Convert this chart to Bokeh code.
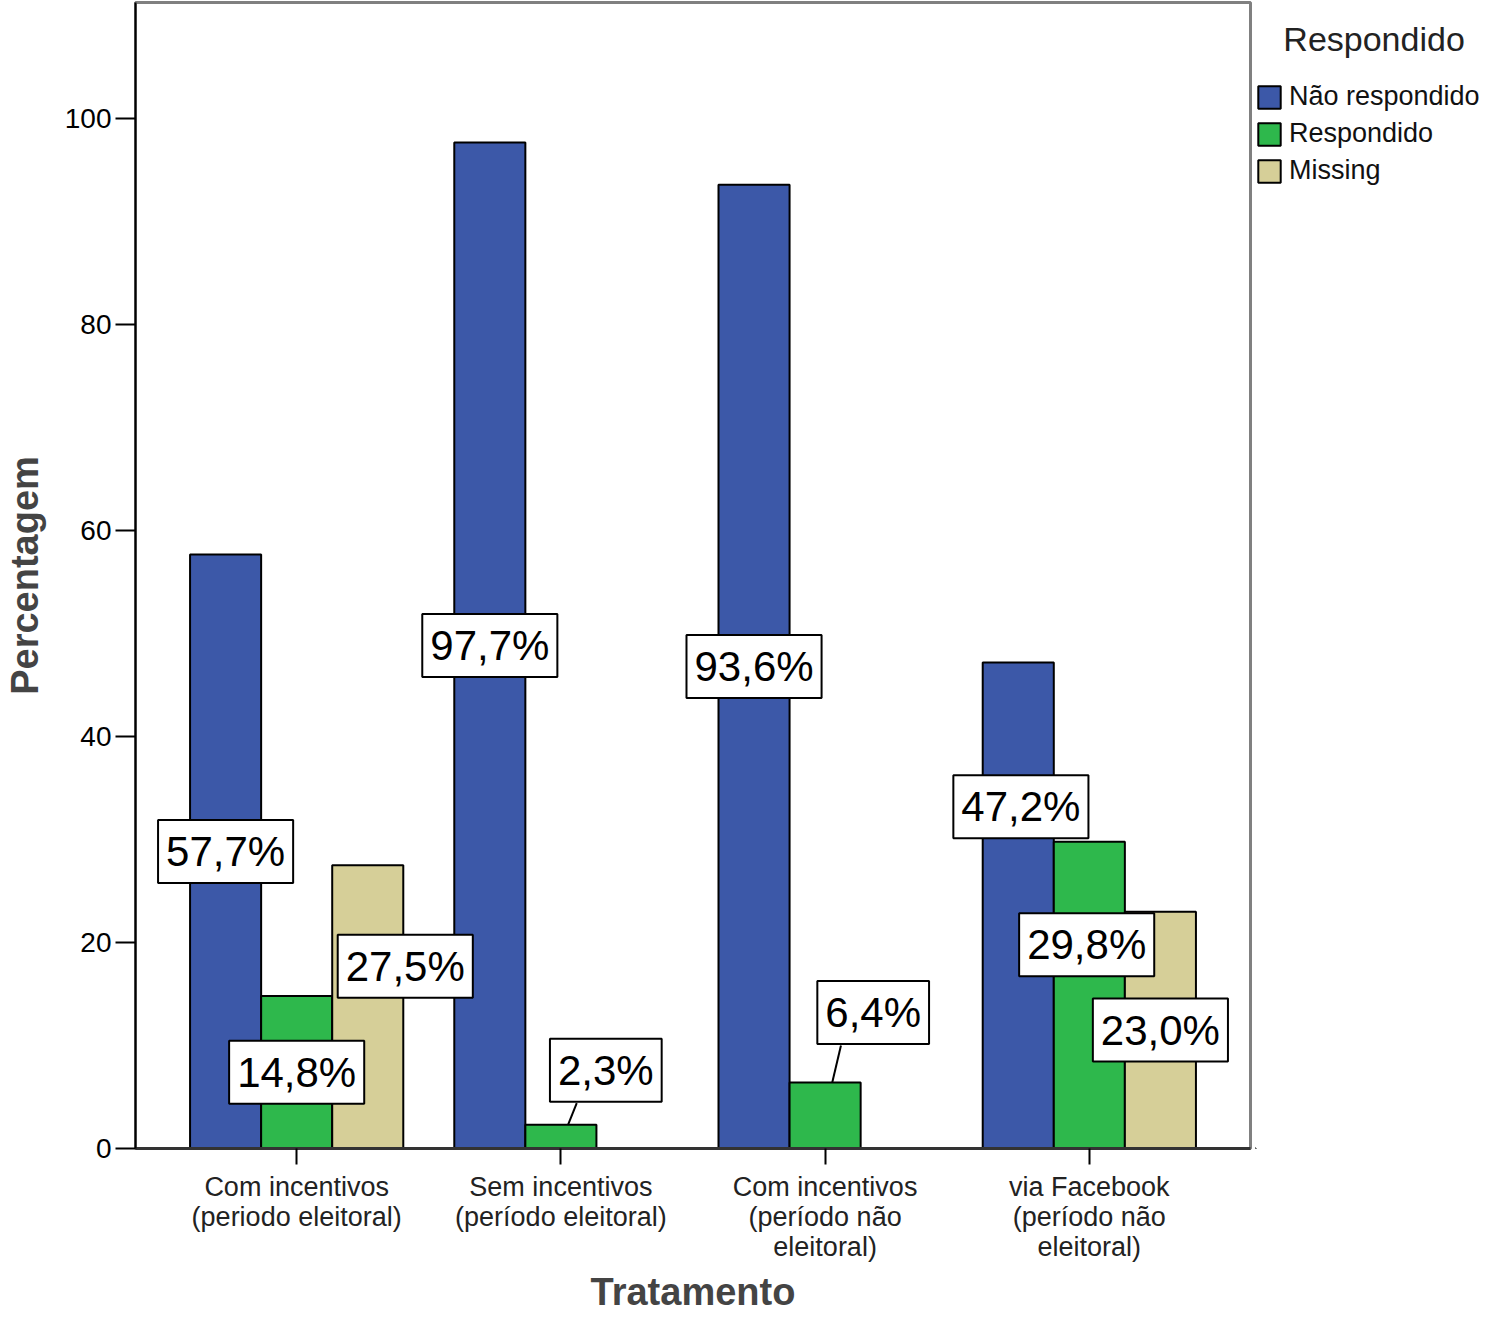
from bokeh.plotting import figure
from bokeh.layouts import row
from bokeh.models import Range1d, FixedTicker, Label, Legend, LegendItem
from bokeh.embed import file_html
from bokeh.resources import INLINE

# ---- data ----
categories = [
    "Com incentivos\n(periodo eleitoral)",
    "Sem incentivos\n(período eleitoral)",
    "Com incentivos\n(período não\neleitoral)",
    "via Facebook\n(período não\neleitoral)",
]
nao_respondido = [57.7, 97.7, 93.6, 47.2]
respondido = [14.8, 2.3, 6.4, 29.8]
missing = [27.5, None, None, 23.0]
series_names = ["Não respondido", "Respondido", "Missing"]
legend_title = "Respondido"
y_ticks = [0, 20, 40, 60, 80, 100]

# ---- styling / layout ----
FONT = "Liberation Sans"
colors = ["#3c58a8", "#2eb84c", "#d6cf98"]
offsets = [-1, 0, 1]
bw = 0.269
x_pos = [1, 2, 3, 4]
# label displacement (x in data units, y in data units) relative to bar middle
label_dx = [[0, 0, 0, 0.01], [0, 0.17, 0.182, -0.01], [0.142, 0, 0, 0]]
label_dy = [[0, 0, 0, 9.6], [0, 6.45, 10.0, 4.9], [3.95, 0, 0, 0]]
leader = [[False] * 4, [False, True, True, False], [False] * 4]
box_half = 3.2

H = 1316
FRAME_TOP = 2
FRAME_BOTTOM = 1148
p = figure(width=1252, height=H,
           x_range=Range1d(0.39, 4.61), y_range=Range1d(0, 111.3),
           output_backend="svg", toolbar_location=None,
           min_border_left=135, min_border_right=2,
           min_border_top=FRAME_TOP, min_border_bottom=H - FRAME_BOTTOM)

p.xgrid.visible = False
p.ygrid.visible = False
p.outline_line_color = "#808080"
p.outline_line_width = 3
p.background_fill_color = "white"
p.border_fill_color = "white"

all_series = [nao_respondido, respondido, missing]
for si, vals in enumerate(all_series):
    xs, tops = [], []
    for i, v in enumerate(vals):
        if v is None:
            continue
        xs.append(x_pos[i] + offsets[si] * bw)
        tops.append(v)
    p.vbar(x=xs, top=tops, width=bw, bottom=0,
           fill_color=colors[si], line_color="black", line_width=2)

# leader lines and value labels
for si, vals in enumerate(all_series):
    for i, v in enumerate(vals):
        if v is None:
            continue
        bx = x_pos[i] + offsets[si] * bw
        lx = bx + label_dx[si][i]
        ly = v / 2 + label_dy[si][i]
        if leader[si][i]:
            p.segment(x0=[bx + 0.027], y0=[v], x1=[bx + 0.06], y1=[ly - box_half],
                      line_color="black", line_width=2)
        txt = f"{v:.1f}%".replace(".", ",")
        p.add_layout(Label(x=lx, y=ly, text=txt, text_align="center",
                           text_baseline="middle", text_font=FONT,
                           text_font_size="42px", text_color="black",
                           background_fill_color="white",
                           border_line_color="black", border_line_width=2,
                           padding=8))

# axes
p.yaxis.ticker = FixedTicker(ticks=y_ticks)
p.yaxis.axis_label = "Percentagem"
p.yaxis.axis_label_text_font = FONT
p.yaxis.axis_label_text_font_style = "bold"
p.yaxis.axis_label_text_font_size = "38px"
p.yaxis.axis_label_standoff = 16
p.yaxis.major_label_text_font = FONT
p.yaxis.major_label_text_font_size = "28px"
p.yaxis.major_label_text_color = "black"
p.yaxis.major_label_standoff = 4
p.yaxis.major_tick_out = 20
p.yaxis.major_tick_in = 0
p.yaxis.minor_tick_out = 0
p.yaxis.minor_tick_in = 0
p.yaxis.axis_line_color = "black"
p.yaxis.axis_line_width = 2
p.yaxis.major_tick_line_width = 2

p.xaxis.ticker = FixedTicker(ticks=x_pos)
p.xaxis.major_label_overrides = {x: c for x, c in zip(x_pos, categories)}
p.xaxis.axis_label = "Tratamento"
p.xaxis.axis_label_text_font = FONT
p.xaxis.axis_label_text_font_style = "bold"
p.xaxis.axis_label_text_font_size = "38px"
p.xaxis.axis_label_standoff = 6
p.xaxis.major_label_text_font = FONT
p.xaxis.major_label_text_font_size = "27px"
p.xaxis.major_label_text_color = "#222222"
p.xaxis.major_label_text_line_height = 1.0
p.xaxis.major_label_standoff = 7
p.xaxis.major_tick_out = 16
p.xaxis.major_tick_in = 0
p.xaxis.minor_tick_out = 0
p.xaxis.minor_tick_in = 0
p.xaxis.axis_line_color = "#333333"
p.xaxis.axis_line_width = 3
p.xaxis.major_tick_line_width = 2

# ---- legend panel (separate figure on the right) ----
lf = figure(width=232, height=H, x_range=Range1d(0, 1), y_range=Range1d(0, 1),
            x_axis_location=None, y_axis_location=None,
            output_backend="svg", toolbar_location=None,
            min_border_left=3, min_border_top=FRAME_TOP, min_border_right=0,
            min_border_bottom=H - FRAME_BOTTOM)
lf.grid.visible = False
lf.outline_line_color = None
lf.background_fill_color = "white"
lf.border_fill_color = "white"
# proxy renderers (kept outside the visible range) that only feed the legend swatches
leg_renderers = [lf.vbar(x=[-5], top=[-5], bottom=[-6], width=0.1,
                         fill_color=c, line_color="black", line_width=2)
                 for c in colors]
NB = "\u00a0"
legend = Legend(items=[LegendItem(label=n, renderers=[r]) for n, r in zip(series_names, leg_renderers)],
                title=NB * 3 + legend_title, title_text_font=FONT,
                title_text_font_size="34px", title_text_font_style="normal",
                title_text_color="#222222", title_standoff=22,
                location=(0, FRAME_BOTTOM - 186), padding=0, margin=0, spacing=6,
                glyph_width=28, glyph_height=28, label_height=28, label_standoff=6,
                label_text_font=FONT, label_text_font_size="27px",
                label_text_color="#111111",
                background_fill_alpha=0, border_line_alpha=0)
lf.add_layout(legend)

layout = row(p, lf, spacing=0)
open("out.html", "w").write(file_html(layout, INLINE))
